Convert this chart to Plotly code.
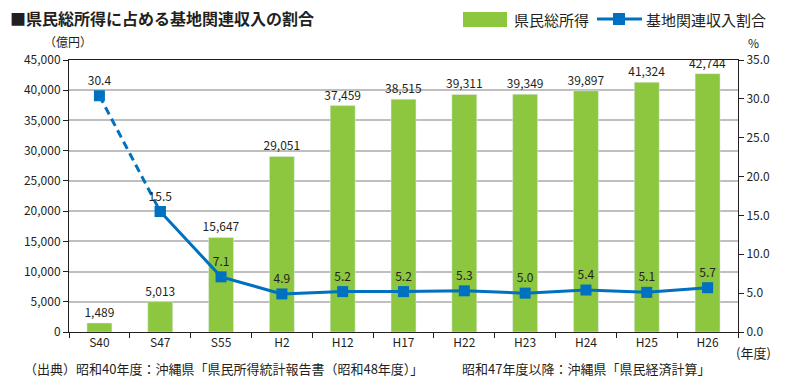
import plotly.graph_objects as go

categories = ["S40", "S47", "S55", "H2", "H12", "H17", "H22", "H23", "H24", "H25", "H26"]
income = [1489, 5013, 15647, 29051, 37459, 38515, 39311, 39349, 39897, 41324, 42744]
ratio = [30.4, 15.5, 7.1, 4.9, 5.2, 5.2, 5.3, 5.0, 5.4, 5.1, 5.7]

GREEN = "#8DC63F"
BLUE = "#0070C0"
TXT = "#231F20"
FONT = "Noto Sans CJK JP"

W, H = 791, 384
ML, MR, MT, MB = 69, 53, 60, 52


def px_x(v):
    return (v - ML) / (W - ML - MR)


def px_y(v):
    return ((H - v) - MB) / (H - MT - MB)


fig = go.Figure()
fig.add_trace(go.Bar(
    x=categories, y=income, marker_color=GREEN, name="県民総所得",
    text=[f"{v:,}" for v in income], textposition="outside", cliponaxis=False,
    constraintext="none",
    textfont=dict(size=12, color=TXT, family=FONT), showlegend=False,
))
# dashed first segment
fig.add_trace(go.Scatter(
    x=categories[:2], y=ratio[:2], yaxis="y2", mode="lines+markers+text",
    line=dict(color=BLUE, width=3, dash="8px,5px"),
    marker=dict(symbol="square", size=11, color=BLUE),
    text=[f"{ratio[0]:.1f}", ""], textposition="top center",
    textfont=dict(size=12, color=TXT, family=FONT), showlegend=False, cliponaxis=False,
))
fig.add_trace(go.Scatter(
    x=categories[1:], y=ratio[1:], yaxis="y2", mode="lines+markers+text",
    line=dict(color=BLUE, width=3),
    marker=dict(symbol="square", size=11, color=BLUE),
    text=[f"{v:.1f}" for v in ratio[1:]], textposition="top center",
    textfont=dict(size=12, color=TXT, family=FONT), showlegend=False, cliponaxis=False,
    name="基地関連収入割合",
))

fig.update_layout(
    width=W, height=H,
    margin=dict(l=ML, r=MR, t=MT, b=MB),
    paper_bgcolor="white", plot_bgcolor="white",
    font=dict(family=FONT, size=12, color=TXT),
    bargap=0.59,
    showlegend=False,
    xaxis=dict(
        range=[-0.5, len(categories) - 0.5],
        showline=True, linecolor="#231F20", linewidth=1, mirror=True,
        ticks="outside", tickson="boundaries", ticklen=5, tickcolor="#231F20",
        tickfont=dict(size=12, color=TXT, family=FONT),
        showgrid=False,
    ),
    yaxis=dict(
        range=[0, 45000], dtick=5000, tickformat=",",
        showline=True, linecolor="#231F20", linewidth=1,
        ticks="outside", ticklen=5, tickcolor="#231F20",
        showgrid=True, gridcolor="#BFBFBF", gridwidth=1.5,
        zeroline=False,
        tickfont=dict(size=12, color=TXT, family=FONT),
    ),
    yaxis2=dict(
        range=[0, 35], dtick=5, tickformat=".1f", overlaying="y", side="right",
        showline=True, linecolor="#231F20", linewidth=1,
        ticks="outside", ticklen=5, tickcolor="#231F20",
        showgrid=False, zeroline=False,
        tickfont=dict(size=12, color=TXT, family=FONT),
    ),
)

annos = [
    (8, 18, "<b>■県民総所得に占める基地関連収入の割合</b>", 16, "left"),
    (42, 41, "（億円）", 12, "left"),
    (753, 42, "%", 12, "center"),
    (773, 352, "(年度)", 13, "right"),
    (22, 368, "（出典）昭和40年度：沖縄県「県民所得統計報告書（昭和48年度）」", 13, "left"),
    (460, 368, "昭和47年度以降：沖縄県「県民経済計算」", 13, "left"),
    (512, 19, "県民総所得", 15, "left"),
    (644, 19, "基地関連収入割合", 15, "left"),
]
for x, y, t, s, xa in annos:
    fig.add_annotation(
        x=px_x(x), y=px_y(y), xref="paper", yref="paper",
        text=t, showarrow=False, xanchor=xa, yanchor="middle",
        font=dict(size=s, color=TXT, family=FONT),
    )

# legend swatches
fig.add_shape(type="rect", xref="paper", yref="paper",
              x0=px_x(463), x1=px_x(507), y0=px_y(27), y1=px_y(12),
              fillcolor=GREEN, line=dict(width=0))
fig.add_shape(type="line", xref="paper", yref="paper",
              x0=px_x(597), x1=px_x(642), y0=px_y(19), y1=px_y(19),
              line=dict(color=BLUE, width=3))
fig.add_shape(type="rect", xref="paper", yref="paper",
              x0=px_x(613), x1=px_x(625), y0=px_y(25), y1=px_y(13),
              fillcolor=BLUE, line=dict(width=0))

fig.write_html("out.html", config={"displayModeBar": False},
               post_script="document.body.style.margin='0px';")
